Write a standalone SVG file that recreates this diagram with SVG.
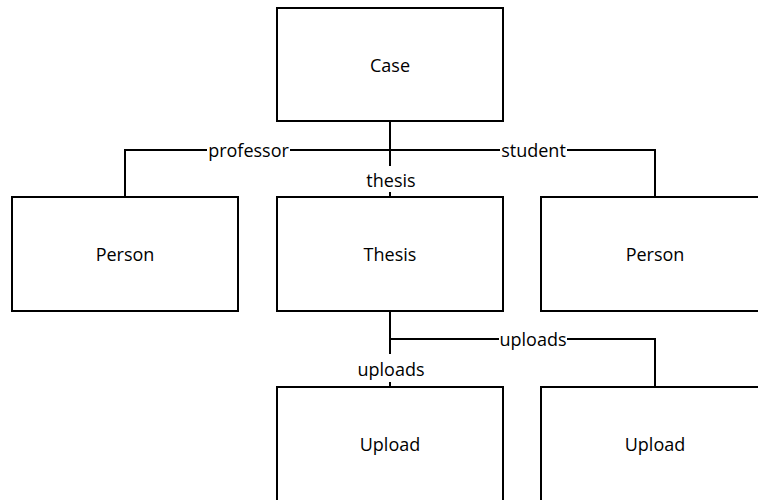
<svg xmlns="http://www.w3.org/2000/svg" width="758" height="500" viewBox="0 0 758 500">
  <style>
    .box { fill: #ffffff; stroke: #000000; stroke-width: 2; }
    .edge { fill: none; stroke: #000000; stroke-width: 2; }
    .lblbg { fill: #ffffff; }
    text { font-family: "Open Sans", "Liberation Sans", sans-serif; font-size: 18px; fill: #000000; text-anchor: middle; dominant-baseline: central; }
  </style>
  <rect width="758" height="500" fill="#ffffff"/>

  <!-- connectors -->
  <g id="connectors">
    <path class="edge" d="M390 121 V197"/>
    <path class="edge" d="M125 197 V150 H655 V197"/>
    <path class="edge" d="M390 311 V387"/>
    <path class="edge" d="M390 339 H655 V387"/>
    <!-- label backgrounds and labels -->
    <rect class="lblbg" x="207" y="140" width="83" height="20"/>
    <text x="248.5" y="150">professor</text>
    <rect class="lblbg" x="500" y="140" width="67" height="20"/>
    <text x="533.5" y="150">student</text>
    <rect class="lblbg" x="364" y="166" width="54" height="26"/>
    <text x="391" y="180">thesis</text>
    <rect class="lblbg" x="499" y="329" width="68" height="20"/>
    <text x="533" y="339">uploads</text>
    <rect class="lblbg" x="355" y="354" width="72" height="28"/>
    <text x="391" y="369">uploads</text>
  </g>

  <g id="case">
    <rect class="box" x="277" y="8" width="226" height="113"/>
    <text x="390" y="65">Case</text>
  </g>
  <g id="person-professor">
    <rect class="box" x="12" y="197" width="226" height="114"/>
    <text x="125" y="254">Person</text>
  </g>
  <g id="thesis">
    <rect class="box" x="277" y="197" width="226" height="114"/>
    <text x="390" y="254">Thesis</text>
  </g>
  <g id="person-student">
    <rect class="box" x="541" y="197" width="226" height="114"/>
    <text x="655" y="254">Person</text>
  </g>
  <g id="upload-1">
    <rect class="box" x="277" y="387" width="226" height="114"/>
    <text x="390" y="444">Upload</text>
  </g>
  <g id="upload-2">
    <rect class="box" x="541" y="387" width="226" height="114"/>
    <text x="655" y="444">Upload</text>
  </g>
</svg>
